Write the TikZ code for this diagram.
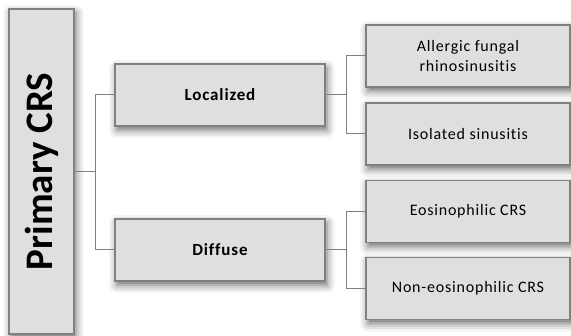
\documentclass[tikz,border=0pt]{standalone}
\usepackage{fontspec}
\setmainfont{Carlito}[LetterSpace=5,Ligatures=NoCommon]
\newfontfamily\rootfont{Carlito}
\usetikzlibrary{shadows.blur}

\definecolor{boxfill}{HTML}{DFDFDF}
\definecolor{boxline}{HTML}{808080}

\begin{document}
\begin{tikzpicture}[
  x=1pt,y=-1pt,
  box/.style={rectangle,draw=boxline,line width=1.2pt,fill=boxfill,
              inner sep=2pt,align=center,font=\fontsize{16}{19.5}\selectfont,
              blur shadow={shadow xshift=2pt,shadow yshift=-4pt,
                           shadow blur radius=8pt,shadow opacity=60}},
  link/.style={draw=boxline,line width=1pt},
]
  \useasboundingbox (0,0) rectangle (571,336);

  % Root (rotated)
  \node[box,minimum width=325pt,minimum height=65pt,rotate=90,
        font=\rootfont\fontsize{39}{42}\selectfont\bfseries]
    (prim) at (41.5,171.5) {Primary CRS};

  % Second level
  \node[box,minimum width=210pt,minimum height=62pt,font=\fontsize{17}{20}\selectfont\bfseries]
    (loc) at (220,95) {Localized};
  \node[box,minimum width=210pt,minimum height=62pt,font=\fontsize{17}{20}\selectfont\bfseries]
    (dif) at (220,250) {Diffuse};

  % Leaves
  \node[box,minimum width=204pt,minimum height=62pt] (afr) at (468,56)
    {Allergic fungal\\rhinosinusitis};
  \node[box,minimum width=204pt,minimum height=62pt] (iso) at (468,134)
    {Isolated sinusitis};
  \node[box,minimum width=204pt,minimum height=62pt] (eos) at (468,211.5)
    {Eosinophilic CRS};
  \node[box,minimum width=204pt,minimum height=62pt] (neo) at (468,288.5)
    {Non-eosinophilic CRS};

  % Connectors
  \draw[link] (prim.south) -- ++(21,0) coordinate (jl);
  \draw[link] (loc.west) -| (jl) |- (dif.west);
  \draw[link] (loc.east) -- ++(21,0) coordinate (jt);
  \draw[link] (afr.west) -| (jt) |- (iso.west);
  \draw[link] (dif.east) -- ++(21,0) coordinate (jb);
  \draw[link] (eos.west) -| (jb) |- (neo.west);
\end{tikzpicture}
\end{document}
